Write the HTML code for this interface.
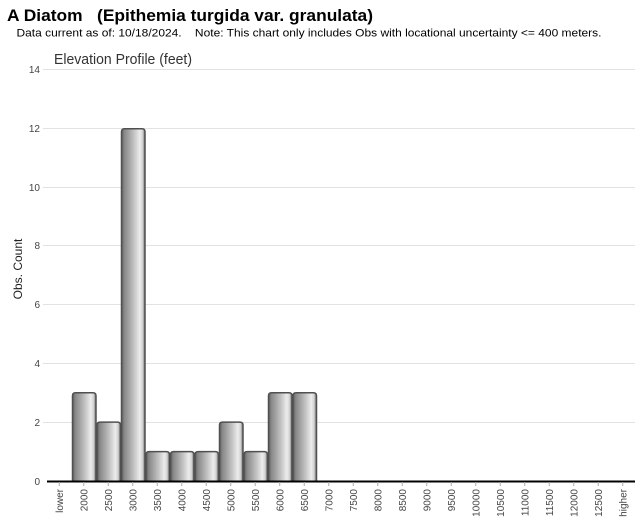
<!DOCTYPE html>
<html>
<head>
<meta charset="utf-8">
<style>
html,body{margin:0;padding:0;background:#fff;}
svg{display:block;}
text{font-family:"Liberation Sans",Arial,sans-serif;}
</style>
</head>
<body>
<svg width="640" height="523" viewBox="0 0 640 523" xmlns="http://www.w3.org/2000/svg">
<defs>
<linearGradient id="bg" x1="0" y1="0" x2="1" y2="0">
<stop offset="0" stop-color="#5e5e5e"/>
<stop offset="0.12" stop-color="#888"/>
<stop offset="0.32" stop-color="#a4a4a4"/>
<stop offset="0.55" stop-color="#c6c6c6"/>
<stop offset="0.78" stop-color="#ececec"/>
<stop offset="0.9" stop-color="#d2d2d2"/>
<stop offset="1" stop-color="#6a6a6a"/>
</linearGradient>
</defs>
<rect width="640" height="523" fill="#fff"/>
<text x="7" y="21" font-size="16.5" font-weight="bold" fill="#000" textLength="366" lengthAdjust="spacingAndGlyphs" xml:space="preserve">A Diatom   (Epithemia turgida var. granulata)</text>
<text x="16.5" y="36.5" font-size="11" fill="#000" textLength="585" lengthAdjust="spacingAndGlyphs" xml:space="preserve">Data current as of: 10/18/2024.    Note: This chart only includes Obs with locational uncertainty &lt;= 400 meters.</text>
<text x="54" y="64" font-size="14.5" fill="#333" textLength="138" lengthAdjust="spacingAndGlyphs">Elevation Profile (feet)</text>

<g stroke="#e2e2e2" stroke-width="1">
<line x1="43" y1="69.5" x2="635" y2="69.5"/>
<line x1="43" y1="128.5" x2="635" y2="128.5"/>
<line x1="43" y1="187.5" x2="635" y2="187.5"/>
<line x1="43" y1="245.5" x2="635" y2="245.5"/>
<line x1="43" y1="304.5" x2="635" y2="304.5"/>
<line x1="43" y1="363.5" x2="635" y2="363.5"/>
<line x1="43" y1="422.5" x2="635" y2="422.5"/>
</g>
<g font-size="10" fill="#444" text-anchor="end">
<text x="40" y="73">14</text>
<text x="40" y="132">12</text>
<text x="40" y="191">10</text>
<text x="40" y="249">8</text>
<text x="40" y="308">6</text>
<text x="40" y="367">4</text>
<text x="40" y="426">2</text>
<text x="40" y="485">0</text>
</g>
<text transform="translate(22,269) rotate(-90)" font-size="12" fill="#222" text-anchor="middle">Obs. Count</text>

<g fill="url(#bg)" stroke="#505050" stroke-width="1.5">
<path d="M72.5,481 V395.7 Q72.5,392.7 75.5,392.7 H93 Q96,392.7 96,395.7 V481"/>
<path d="M97,481 V425.1 Q97,422.1 100,422.1 H117.5 Q120.5,422.1 120.5,425.1 V481"/>
<path d="M121.5,481 V131.8 Q121.5,128.8 124.5,128.8 H142 Q145,128.8 145,131.8 V481"/>
<path d="M146,481 V454.6 Q146,451.6 149,451.6 H166.5 Q169.5,451.6 169.5,454.6 V481"/>
<path d="M170.5,481 V454.6 Q170.5,451.6 173.5,451.6 H191 Q194,451.6 194,454.6 V481"/>
<path d="M195,481 V454.6 Q195,451.6 198,451.6 H215.5 Q218.5,451.6 218.5,454.6 V481"/>
<path d="M219.5,481 V425.1 Q219.5,422.1 222.5,422.1 H240 Q243,422.1 243,425.1 V481"/>
<path d="M244,481 V454.6 Q244,451.6 247,451.6 H264.5 Q267.5,451.6 267.5,454.6 V481"/>
<path d="M268.5,481 V395.7 Q268.5,392.7 271.5,392.7 H289 Q292,392.7 292,395.7 V481"/>
<path d="M293,481 V395.7 Q293,392.7 296,392.7 H313.5 Q316.5,392.7 316.5,395.7 V481"/>
</g>

<line x1="47" y1="481.5" x2="635" y2="481.5" stroke="#000" stroke-width="2"/>
<g stroke="#aaa" stroke-width="1">
<line x1="59.25" y1="482" x2="59.25" y2="486"/>
<line x1="83.75" y1="482" x2="83.75" y2="486"/>
<line x1="108.25" y1="482" x2="108.25" y2="486"/>
<line x1="132.75" y1="482" x2="132.75" y2="486"/>
<line x1="157.25" y1="482" x2="157.25" y2="486"/>
<line x1="181.75" y1="482" x2="181.75" y2="486"/>
<line x1="206.25" y1="482" x2="206.25" y2="486"/>
<line x1="230.75" y1="482" x2="230.75" y2="486"/>
<line x1="255.25" y1="482" x2="255.25" y2="486"/>
<line x1="279.75" y1="482" x2="279.75" y2="486"/>
<line x1="304.25" y1="482" x2="304.25" y2="486"/>
<line x1="328.75" y1="482" x2="328.75" y2="486"/>
<line x1="353.25" y1="482" x2="353.25" y2="486"/>
<line x1="377.75" y1="482" x2="377.75" y2="486"/>
<line x1="402.25" y1="482" x2="402.25" y2="486"/>
<line x1="426.75" y1="482" x2="426.75" y2="486"/>
<line x1="451.25" y1="482" x2="451.25" y2="486"/>
<line x1="475.75" y1="482" x2="475.75" y2="486"/>
<line x1="500.25" y1="482" x2="500.25" y2="486"/>
<line x1="524.75" y1="482" x2="524.75" y2="486"/>
<line x1="549.25" y1="482" x2="549.25" y2="486"/>
<line x1="573.75" y1="482" x2="573.75" y2="486"/>
<line x1="598.25" y1="482" x2="598.25" y2="486"/>
<line x1="622.75" y1="482" x2="622.75" y2="486"/>
</g>
<g font-size="10" fill="#444" text-anchor="end">
<text transform="translate(62.8,489) rotate(-90)">lower</text>
<text transform="translate(87.3,489) rotate(-90)">2000</text>
<text transform="translate(111.8,489) rotate(-90)">2500</text>
<text transform="translate(136.3,489) rotate(-90)">3000</text>
<text transform="translate(160.8,489) rotate(-90)">3500</text>
<text transform="translate(185.3,489) rotate(-90)">4000</text>
<text transform="translate(209.8,489) rotate(-90)">4500</text>
<text transform="translate(234.3,489) rotate(-90)">5000</text>
<text transform="translate(258.8,489) rotate(-90)">5500</text>
<text transform="translate(283.3,489) rotate(-90)">6000</text>
<text transform="translate(307.8,489) rotate(-90)">6500</text>
<text transform="translate(332.3,489) rotate(-90)">7000</text>
<text transform="translate(356.8,489) rotate(-90)">7500</text>
<text transform="translate(381.3,489) rotate(-90)">8000</text>
<text transform="translate(405.8,489) rotate(-90)">8500</text>
<text transform="translate(430.3,489) rotate(-90)">9000</text>
<text transform="translate(454.8,489) rotate(-90)">9500</text>
<text transform="translate(479.3,489) rotate(-90)">10000</text>
<text transform="translate(503.8,489) rotate(-90)">10500</text>
<text transform="translate(528.3,489) rotate(-90)">11000</text>
<text transform="translate(552.8,489) rotate(-90)">11500</text>
<text transform="translate(577.3,489) rotate(-90)">12000</text>
<text transform="translate(601.8,489) rotate(-90)">12500</text>
<text transform="translate(626.3,489) rotate(-90)">higher</text>
</g>
</svg>
</body>
</html>
